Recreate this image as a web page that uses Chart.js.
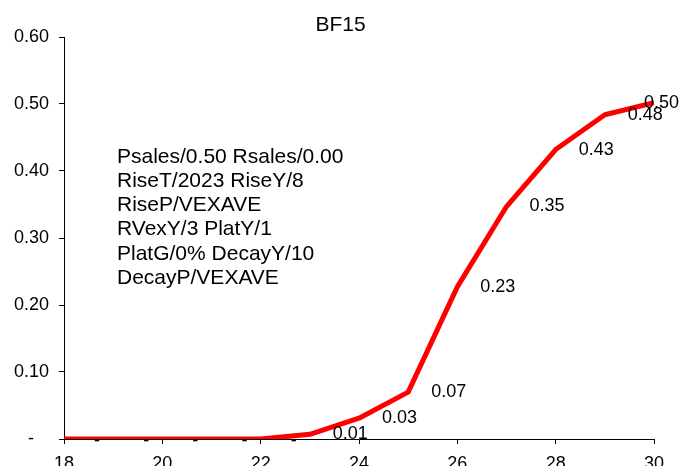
<!DOCTYPE html>
<html>
<head>
<meta charset="utf-8">
<title>BF15</title>
<script src="https://cdn.jsdelivr.net/npm/chart.js@4.4.1/dist/chart.umd.min.js"></script>
<style>
  html, body { margin: 0; padding: 0; background: #fff; }
  #wrap { position: relative; width: 679px; height: 466px; }
</style>
</head>
<body>
<div id="wrap"><canvas id="bfChart" width="679" height="466"></canvas></div>
<script>
// chart data
const chartTitle = 'BF15';
const years = [18, 19, 20, 21, 22, 23, 24, 25, 26, 27, 28, 29, 30];
const values = [0, 0, 0, 0, 0, 0.007, 0.031, 0.070, 0.227, 0.347, 0.432, 0.484, 0.502];
const xTicks = [18, 20, 22, 24, 26, 28, 30];
const yTicks = [0, 0.1, 0.2, 0.3, 0.4, 0.5, 0.6];
const noteLines = [
  'Psales/0.50 Rsales/0.00',
  'RiseT/2023 RiseY/8',
  'RiseP/VEXAVE',
  'RVexY/3 PlatY/1',
  'PlatG/0% DecayY/10',
  'DecayP/VEXAVE'
];

document.addEventListener('DOMContentLoaded', function () {
  const fontFamily = '"Liberation Sans", Arial, sans-serif';

  /*
   * Extra drawing: title, the note block and the value labels
   * next to each point (Excel style, zero shown as a dash).
   */
  const overlayPlugin = {
    id: 'overlay',
    afterDatasetsDraw: function (chart) {
      const ctx = chart.ctx;
      ctx.save();
      ctx.fillStyle = '#000';

      // title
      ctx.font = '21px ' + fontFamily;
      ctx.textAlign = 'center';
      ctx.textBaseline = 'alphabetic';
      ctx.fillText(chartTitle, 340.5, 30.7);

      // note block
      ctx.textAlign = 'left';
      noteLines.forEach(function (line, i) {
        ctx.fillText(line, 117, 162.7 + i * 24.2);
      });

      // value labels
      ctx.font = '18px ' + fontFamily;
      ctx.textBaseline = 'middle';
      const meta = chart.getDatasetMeta(0);
      meta.data.forEach(function (pt, i) {
        const v = values[i];
        const text = v === 0 ? '-' : v.toFixed(2);
        const w = ctx.measureText(text).width;
        let x = pt.x + (v === 0 ? 30 : 23);
        if (x + w > chart.width) x = chart.width - w;
        ctx.fillText(text, x, pt.y + (v === 0 ? 2 : 0));
      });
      ctx.restore();
    }
  };

  const canvas = document.getElementById('bfChart');
  new Chart(canvas, {
    type: 'line',
    data: {
      datasets: [{
        data: years.map(function (y, i) { return { x: y, y: values[i] }; }),
        borderColor: '#ff0000',
        backgroundColor: '#ff0000',
        borderWidth: 5,
        borderJoinStyle: 'round',
        pointRadius: 0,
        tension: 0,
        fill: false
      }]
    },
    options: {
      responsive: false,
      animation: false,
      devicePixelRatio: 1,
      layout: { padding: { top: 37, right: 25, left: 0, bottom: 0 } },
      scales: {
        x: {
          type: 'linear',
          min: 18,
          max: 30,
          afterBuildTicks: function (scale) {
            scale.ticks = xTicks.map(function (v) { return { value: v }; });
          },
          afterFit: function (scale) { scale.height = 27; },
          grid: { drawOnChartArea: false, drawTicks: true, tickLength: 5, color: '#000' },
          border: { display: true, color: '#000', width: 1 },
          ticks: {
            color: '#000',
            font: { family: fontFamily, size: 18 },
            padding: 9,
            maxRotation: 0,
            autoSkip: false
          }
        },
        y: {
          min: 0,
          max: 0.6,
          afterBuildTicks: function (scale) {
            scale.ticks = yTicks.map(function (v) { return { value: v }; });
          },
          afterFit: function (scale) { scale.width = 64; },
          grid: { drawOnChartArea: false, drawTicks: true, tickLength: 5, color: '#000' },
          border: { display: true, color: '#000', width: 1 },
          ticks: {
            color: '#000',
            font: { family: fontFamily, size: 18 },
            padding: 10,
            callback: function (v) {
              return v === 0 ? '-\u2007 ' : Number(v).toFixed(2);
            }
          }
        }
      },
      plugins: {
        legend: { display: false },
        title: { display: false },
        tooltip: { enabled: false }
      }
    },
    plugins: [overlayPlugin]
  });
});
</script>
</body>
</html>
